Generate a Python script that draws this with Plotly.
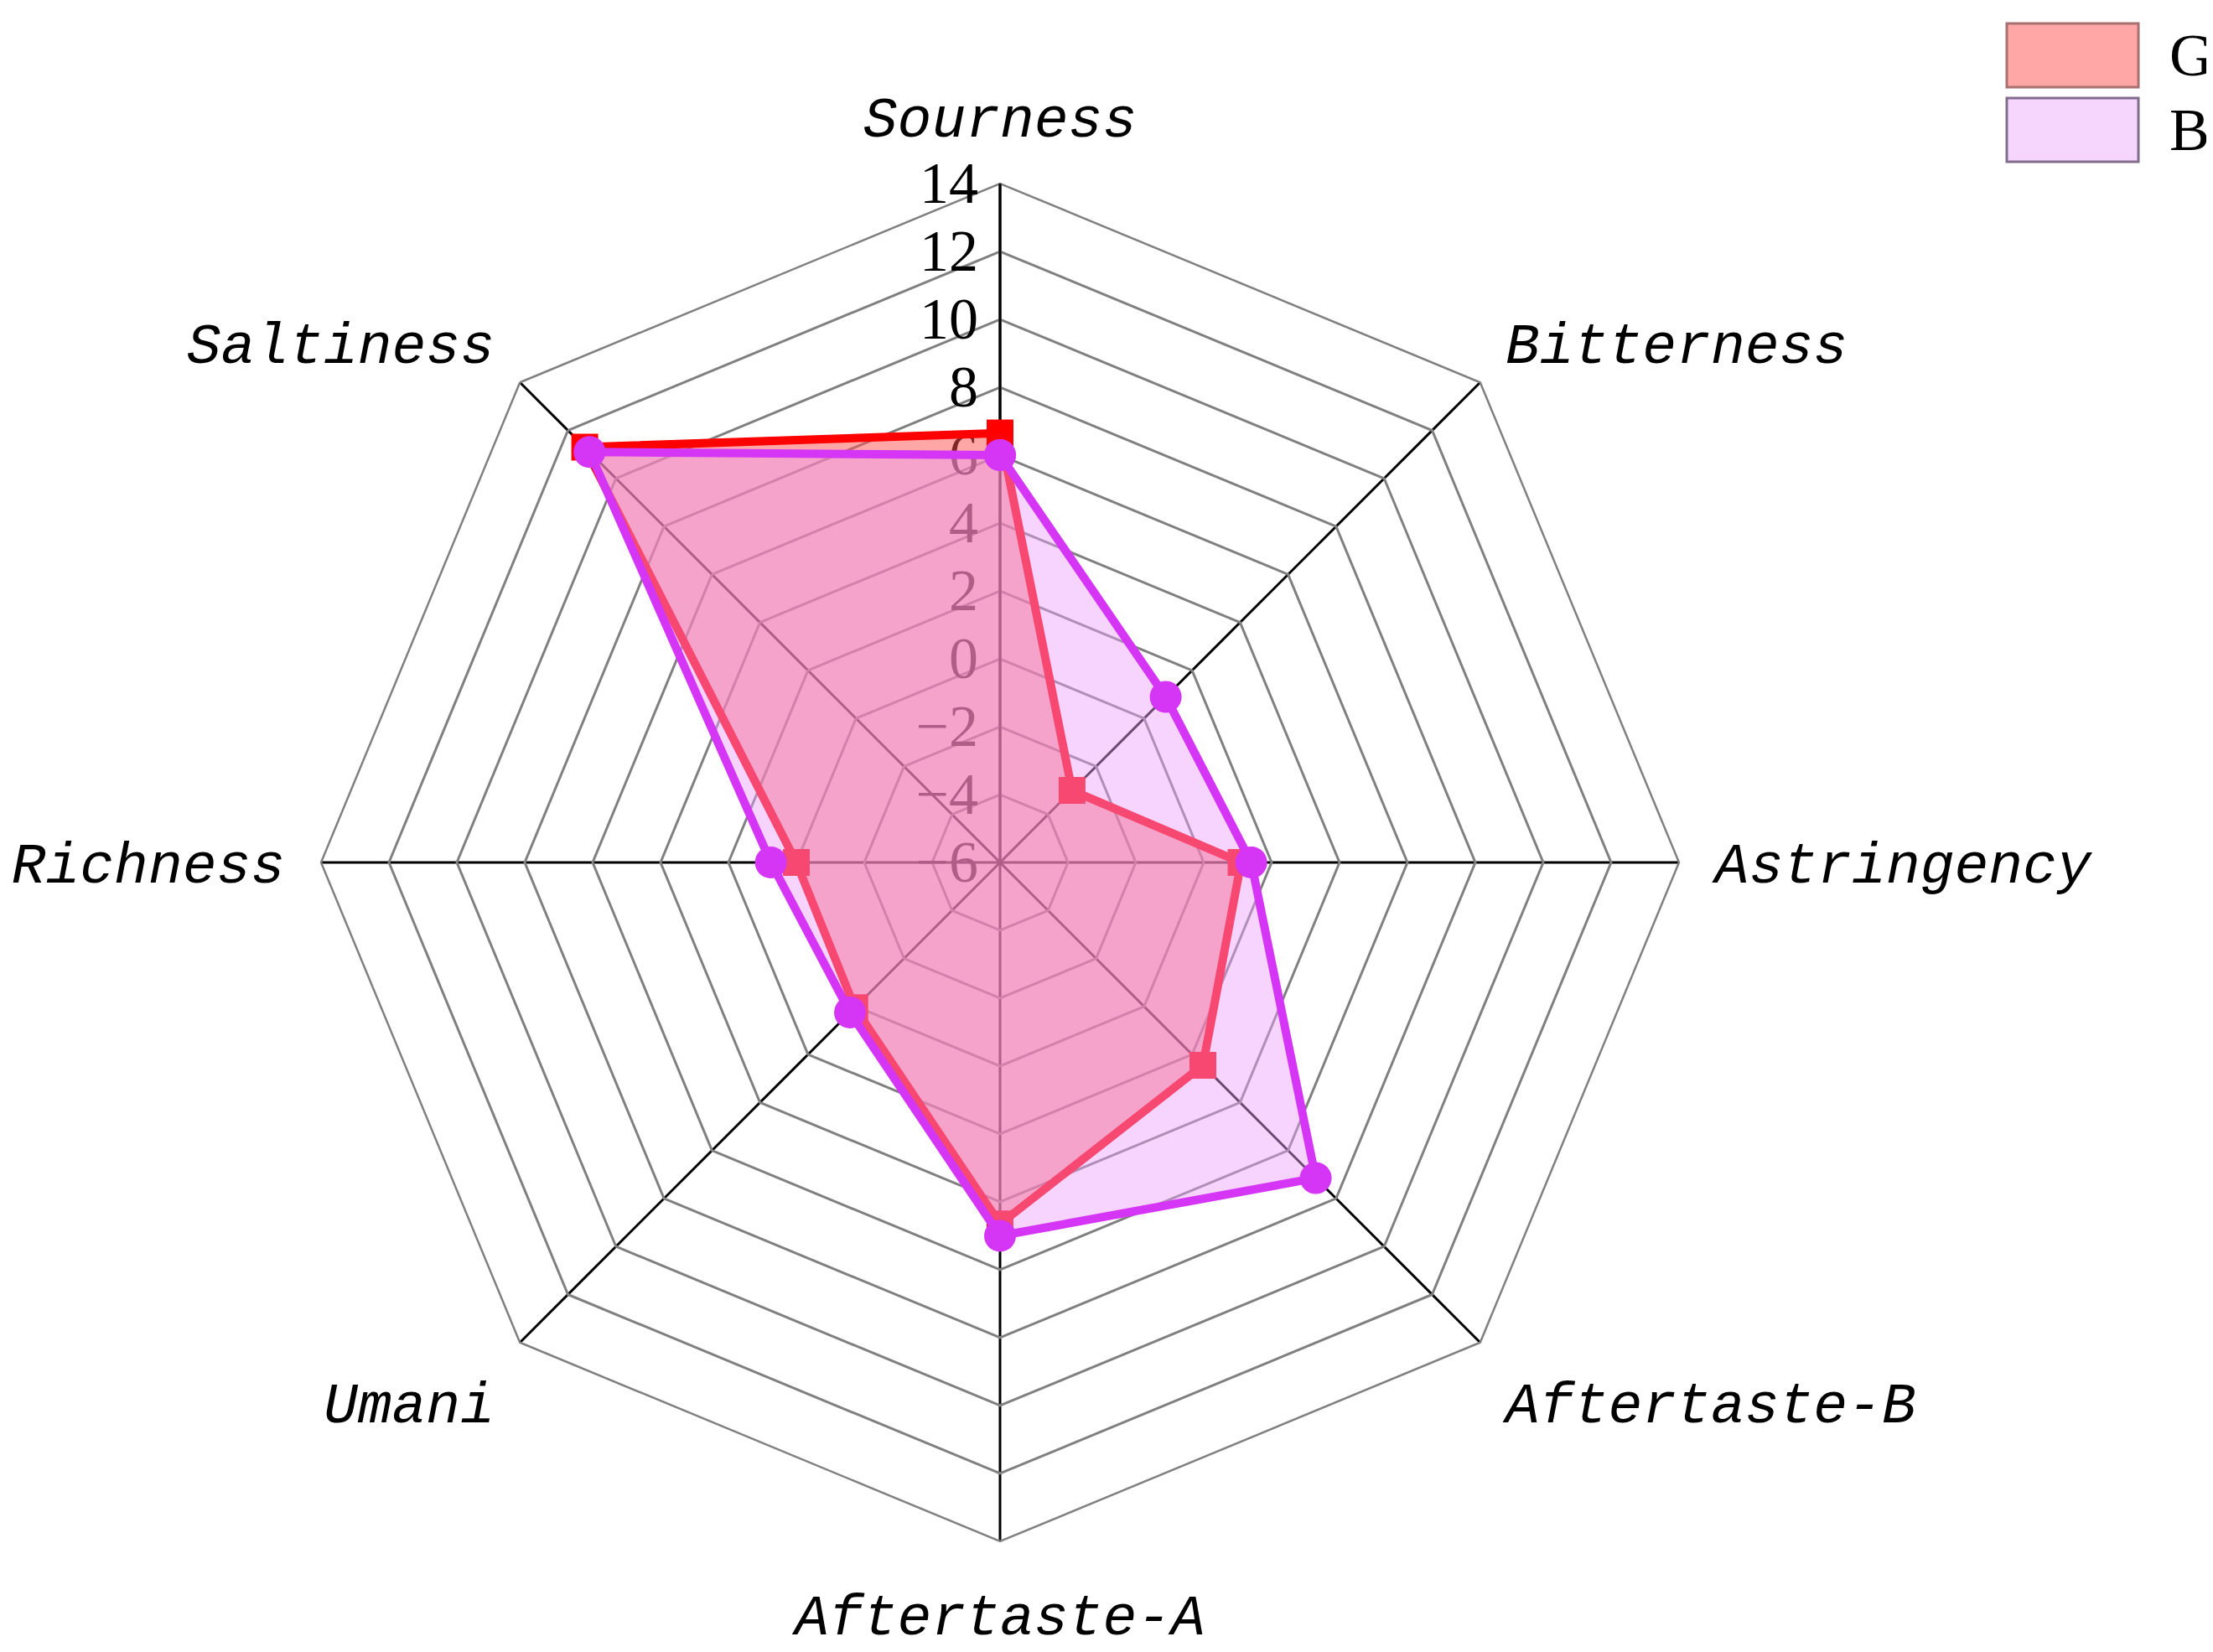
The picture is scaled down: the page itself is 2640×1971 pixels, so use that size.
import plotly.graph_objects as go

# taste attributes, clockwise from the top
categories = ["Sourness", "Bitterness", "Astringency", "Aftertaste-B",
              "Aftertaste-A", "Umani", "Richness", "Saltiness"]
g_values = [6.65, -3.0, 1.1, 2.45, 4.65, 0.05, 0.0, 11.3]
b_values = [6.0, 0.9, 1.4, 7.15, 5.0, 0.25, 0.75, 11.1]
series_names = ["G", "B"]
radial_ticks = [-6, -4, -2, 0, 2, 4, 6, 8, 10, 12, 14]

W, H = 2640, 1971
label_font = dict(family="Liberation Mono", size=68, color="black", style="italic")
tick_font = dict(family="Liberation Serif", size=70, color="black")

# plotly hides markers inside |r| < -range[0] on linear polar grids when the
# radial range starts below zero, so plot relative to the axis origin instead
r0 = radial_ticks[0]


def shifted(vals):
    vals = [v - r0 for v in vals]
    return vals + vals[:1]


fig = go.Figure()
fig.add_trace(go.Scatterpolar(
    r=shifted(g_values), theta=categories + categories[:1], name=series_names[0],
    mode="lines+markers", fill="toself", fillcolor="rgba(255,80,80,0.5)",
    line=dict(color="#FF0000", width=10),
    marker=dict(symbol="square", size=32, color="#FF0000"),
    showlegend=False,
))
fig.add_trace(go.Scatterpolar(
    r=shifted(b_values), theta=categories + categories[:1], name=series_names[1],
    mode="lines+markers", fill="toself", fillcolor="rgba(236,160,250,0.45)",
    line=dict(color="#D536F6", width=10),
    marker=dict(symbol="circle", size=38, color="#D536F6"),
    showlegend=False,
))

cx, cy, rad = 1185, 1021, 810
fig.update_layout(
    width=W, height=H,
    margin=dict(l=0, r=0, t=0, b=0),
    paper_bgcolor="white",
    polar=dict(
        bgcolor="white",
        gridshape="linear",
        domain=dict(x=[(cx - rad) / W, (cx + rad) / W],
                    y=[(H - cy - rad) / H, (H - cy + rad) / H]),
        radialaxis=dict(
            range=[0, radial_ticks[-1] - r0],
            tickvals=[t - r0 for t in radial_ticks],
            ticktext=[str(t).replace("-", "\u2212") for t in radial_ticks],
            angle=90, tickangle=90,
            side="counterclockwise", showline=True, linecolor="black", linewidth=3,
            gridcolor="#808080", gridwidth=2.5, ticks="", tickfont=tick_font,
            layer="below traces",
        ),
        angularaxis=dict(
            rotation=90, direction="clockwise", categoryorder="array",
            categoryarray=categories,
            showline=True, linecolor="#808080", linewidth=2.5,
            gridcolor="black", gridwidth=3,
            ticks="outside", ticklen=28, tickcolor="rgba(0,0,0,0)",
            tickfont=label_font, layer="below traces",
        ),
    ),
)

# legend boxes
legend_fill = ["#FFA6A6", "#F7D6FD"]
legend_edge = ["#A87070", "#806C8C"]
box_tops = [20, 109]
for name, fc, ec, top in zip(series_names, legend_fill, legend_edge, box_tops):
    fig.add_shape(type="rect", xref="paper", yref="paper",
                  x0=2386 / W, x1=2543 / W, y0=1 - (top + 76) / H, y1=1 - top / H,
                  fillcolor=fc, line=dict(color=ec, width=3))
    fig.add_annotation(text=name, xref="paper", yref="paper", showarrow=False,
                       x=2578 / W, y=1 - (top + 38) / H, xanchor="left", yanchor="middle",
                       font=dict(family="Liberation Serif", size=72, color="black"))

fig.write_html("out.html")
